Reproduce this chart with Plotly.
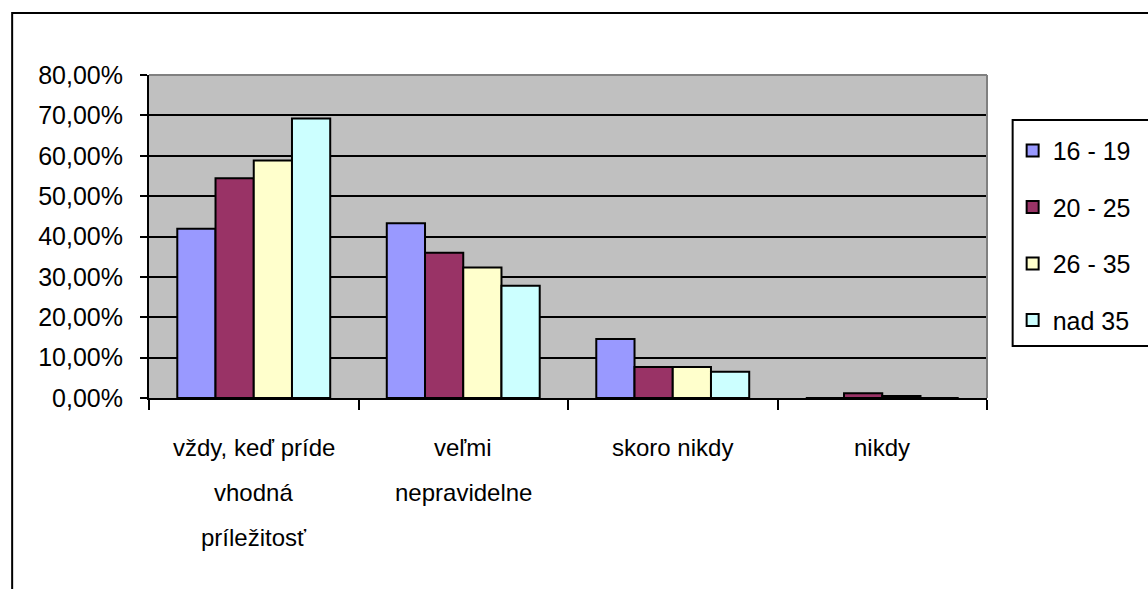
import plotly.graph_objects as go

categories = ["vždy, keď príde vhodná príležitosť", "veľmi nepravidelne", "skoro nikdy", "nikdy"]
category_lines = [["vždy, keď príde", "vhodná", "príležitosť"], ["veľmi", "nepravidelne"], ["skoro nikdy"], ["nikdy"]]
series_names = ["16 - 19", "20 - 25", "26 - 35", "nad 35"]
values_16_19 = [0.419, 0.433, 0.146, 0.0]
values_20_25 = [0.544, 0.360, 0.077, 0.012]
values_26_35 = [0.588, 0.323, 0.077, 0.005]
values_nad_35 = [0.692, 0.278, 0.065, 0.0]
series_values = [values_16_19, values_20_25, values_26_35, values_nad_35]
colors = ["#9999FF", "#993366", "#FFFFCC", "#CCFFFF"]
y_ticks = [0, 0.1, 0.2, 0.3, 0.4, 0.5, 0.6, 0.7, 0.8]

FONT = "Liberation Sans, Arial, sans-serif"

fig = go.Figure()
for i, (name, vals, col) in enumerate(zip(series_names, series_values, colors)):
    fig.add_trace(go.Bar(
        x=categories, y=vals, name=name, legendgroup=name,
        marker=dict(color=col, line=dict(color="black", width=2)),
    ))

annotations = []
for cat, lines in zip(categories, category_lines):
    for j, line in enumerate(lines):
        annotations.append(dict(
            x=cat, xref="x", y=0, yref="paper", yanchor="middle",
            yshift=-(49 + 45 * j), text=line, showarrow=False,
            font=dict(family=FONT, size=24, color="black"),
        ))

fig.update_layout(
    width=1148, height=589,
    margin=dict(l=149, r=148, t=75, b=191),
    paper_bgcolor="white", plot_bgcolor="#C0C0C0",
    separators=",.",
    barmode="group", bargap=0.27, bargroupgap=0,
    font=dict(family=FONT, size=25, color="black"),
    showlegend=True,
    legend=dict(
        x=1.0306, xanchor="left", y=0.8607, yanchor="top",
        bgcolor="rgba(0,0,0,0)", borderwidth=0,
        font=dict(family=FONT, size=25, color="black"),
        traceorder="grouped", tracegroupgap=21,
        title=dict(text=" ", font=dict(size=6)),
    ),
    xaxis=dict(
        showticklabels=False, tickson="boundaries", ticks="outside",
        ticklen=10, tickwidth=2, tickcolor="black",
        showline=True, linecolor="black", linewidth=2,
        showgrid=False, zeroline=False,
    ),
    yaxis=dict(
        range=[0, 0.8], tickvals=y_ticks, tickformat=".2%",
        ticks="outside", ticklen=7, tickwidth=2, tickcolor="black",
        ticklabelstandoff=12,
        showline=True, linecolor="black", linewidth=2,
        showgrid=True, gridcolor="black", gridwidth=2, zeroline=False,
        tickfont=dict(family=FONT, size=25, color="black"),
    ),
    annotations=annotations,
    shapes=[
        dict(type="line", xref="paper", yref="paper", x0=0, x1=1, y0=1, y1=1,
             line=dict(color="#808080", width=2), layer="above"),
        dict(type="line", xref="paper", yref="paper", x0=1, x1=1, y0=0, y1=1,
             line=dict(color="#808080", width=2), layer="above"),
        dict(type="rect", xref="paper", yref="paper", x0=-0.1633, x1=1.4,
             y0=-1.0, y1=1.192, line=dict(color="black", width=2),
             fillcolor="rgba(0,0,0,0)", layer="below"),
        dict(type="rect", xref="paper", yref="paper", x0=1.0306, x1=1.4,
             y0=0.161, y1=0.8607, line=dict(color="black", width=2),
             fillcolor="white", layer="below"),
    ],
)

fig.write_html("out.html", config={"displayModeBar": False},
               post_script="document.body.style.margin='0';")
